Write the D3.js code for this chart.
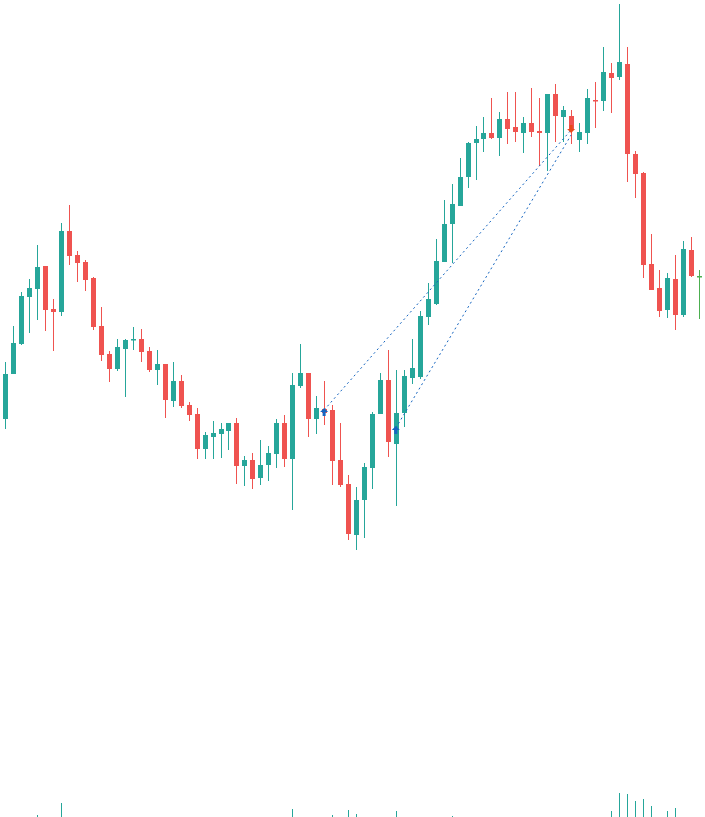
<!DOCTYPE html>
<html>
<head>
<meta charset="utf-8">
<script src="https://cdn.jsdelivr.net/npm/d3@7"></script>
<style>
  html, body { margin: 0; padding: 0; background: #fff; }
  svg { display: block; }
</style>
</head>
<body>
<div id="graph"></div>
<script>

// candle data: [open, high, low, close]
var opens  = [581,626,656,703,711,734,691,688,769,745,738,722,674,646,631,651,661,661,649,630,636,599,619,595,586,551,563,566,569,577,534,540,522,535,546,577,541,614,627,581,591,590,540,516,465,500,532,586,620,556,587,622,623,683,696,738,776,794,823,857,861,867,862,881,873,867,877,869,867,906,883,884,860,867,900,899,927,923,936,846,827,736,712,690,721,685,750,724]
var highs  = [638,674,708,721,755,734,701,777,795,749,740,723,693,649,661,661,673,671,653,650,636,638,625,598,592,568,579,577,577,582,544,547,560,554,581,585,627,656,627,604,619,595,577,525,513,537,588,627,650,630,630,661,689,717,761,800,816,842,858,874,883,902,888,908,908,883,912,902,906,916,894,890,877,911,918,953,937,996,953,849,828,766,730,727,745,759,763,730]
var lows   = [571,626,655,667,680,669,649,684,735,718,709,670,639,618,629,603,650,638,628,615,582,593,592,579,541,541,541,542,550,516,514,511,515,519,532,533,490,612,563,566,575,515,513,460,450,462,511,586,543,494,573,616,621,675,695,738,737,794,812,820,848,861,844,856,858,847,863,834,829,858,858,856,848,856,872,889,887,920,818,802,722,710,683,682,670,683,723,681]
var closes = [626,657,704,712,733,690,688,769,744,737,720,673,645,631,653,660,661,648,630,636,600,619,594,585,551,565,567,571,577,534,540,521,535,547,577,541,615,627,581,592,587,539,515,466,500,533,586,620,558,587,624,632,684,701,739,776,796,823,857,861,867,862,881,871,868,877,868,867,906,884,890,870,868,902,899,928,922,938,846,826,735,710,689,722,685,751,724,724]

// volume (only the bars that show above the floor)
var volIndex = [4, 7, 36, 41, 43, 44, 49, 56, 76, 77, 78, 79, 80, 81, 83, 84]
var volValue = [2, 14, 8, 2, 7, 3, 6, 1, 6, 24, 23, 16, 18, 11, 6, 9]

// trades: entry bar, entry price, exit bar, exit price
var tradeEntry      = [40, 49]
var tradeEntryPrice = [590, 572]
var tradeExit       = [71, 71]
var tradeExitPrice  = [870, 865]

var width = 705, height = 817
var up = '#26a69a', down = '#ef5350', lineColor = '#1565c0'

var candles = opens.map(function(o, i){
  return {i: i, o: o, h: highs[i], l: lows[i], c: closes[i]}
})

var svg = d3.select('#graph').append('svg')
    .attr('width', width).attr('height', height)

var x = d3.scaleBand().domain(d3.range(candles.length)).range([0, 704]).padding(0.35)
var cx = function(i){ return x(i) + x.bandwidth()/2 }
var y = d3.scaleLinear().domain([183, 1000]).range([height, 0])
var yv = d3.scaleLinear().domain([0, 24]).range([height, height - 24])

var g = svg.selectAll('g.candle').data(candles).enter().append('g')
    .attr('class', 'candle')
    .attr('fill', function(d){ return d.i == candles.length - 1 ? '#4caf50' : (d.c >= d.o ? up : down) })
    .attr('stroke', function(d){ return d.i == candles.length - 1 ? '#4caf50' : (d.c >= d.o ? up : down) })

g.append('line')
    .attr('x1', function(d){ return Math.round(cx(d.i)) + 0.5 })
    .attr('x2', function(d){ return Math.round(cx(d.i)) + 0.5 })
    .attr('y1', function(d){ return y(d.h) })
    .attr('y2', function(d){ return y(d.l) })
    .attr('stroke-width', 1)

g.append('rect')
    .attr('stroke', 'none')
    .attr('x', function(d){ return Math.round(cx(d.i)) - 2 })
    .attr('width', 5)
    .attr('y', function(d){ return y(Math.max(d.o, d.c)) })
    .attr('height', function(d){ return Math.max(1.5, Math.abs(y(d.o) - y(d.c))) })

svg.selectAll('line.vol').data(volIndex).enter().append('line')
    .attr('class', 'vol')
    .attr('x1', function(d){ return Math.round(cx(d)) + 0.5 })
    .attr('x2', function(d){ return Math.round(cx(d)) + 0.5 })
    .attr('y1', height)
    .attr('y2', function(d, i){ return yv(volValue[i]) })
    .attr('stroke', up)

// trade lines
svg.selectAll('line.trade').data(tradeEntry).enter().append('line')
    .attr('class', 'trade')
    .attr('x1', function(d){ return cx(d) })
    .attr('y1', function(d, i){ return y(tradeEntryPrice[i]) })
    .attr('x2', function(d, i){ return cx(tradeExit[i]) })
    .attr('y2', function(d, i){ return y(tradeExitPrice[i]) })
    .attr('stroke', lineColor)
    .attr('stroke-dasharray', '2,3')

// markers
var arrow = 'M0,-4 L4,0 L1.5,0 L1.5,4 L-1.5,4 L-1.5,0 L-4,0 Z'
svg.selectAll('path.buy').data(tradeEntry).enter().append('path')
    .attr('class', 'buy')
    .attr('d', arrow)
    .attr('transform', function(d, i){ return 'translate(' + cx(d) + ',' + (y(tradeEntryPrice[i]) + 2) + ')' })
    .attr('fill', lineColor)

svg.append('path')
    .attr('d', arrow)
    .attr('transform', 'translate(' + cx(tradeExit[0]) + ',' + (y(tradeExitPrice[0]) - 1) + ') rotate(180)')
    .attr('fill', '#e64a19')

</script>
</body>
</html>
